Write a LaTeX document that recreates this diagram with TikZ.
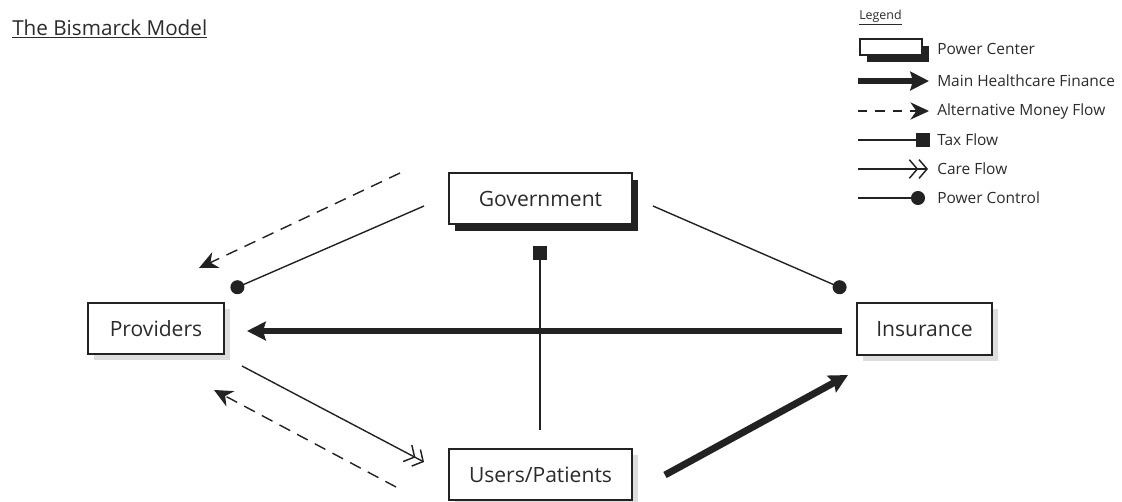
\documentclass[tikz,border=0pt]{standalone}
\usepackage{fontspec}
\setmainfont{Open Sans}
\usetikzlibrary{arrows.meta,shadows}
\definecolor{ink}{HTML}{222222}
\definecolor{txt}{HTML}{2B2B2B}
\definecolor{lshadow}{HTML}{DDDDDD}
\begin{document}
\begin{tikzpicture}[x=0.75pt,y=-0.75pt,
  box/.style={draw=ink,line width=1.1pt,fill=white,text=txt,font=\fontsize{15.8}{18}\selectfont,inner sep=0pt},
  lightbox/.style={box,drop shadow={shadow xshift=4.5pt,shadow yshift=-4.5pt,fill=lshadow,opacity=1}},
  powerbox/.style={box,drop shadow={shadow xshift=4.5pt,shadow yshift=-5.25pt,fill=ink,opacity=1}},
  thin/.style={draw=ink,line width=1.05pt},
  thick/.style={draw=ink,line width=5.2pt,-{Stealth[length=14pt,width=14pt,inset=2pt]}},
  money/.style={draw=ink,line width=1.05pt,dash pattern=on 9pt off 6pt,-{Stealth[length=14pt,width=13pt,inset=4.5pt]}},
  tax/.style={thin,-{Square[length=10.5pt,width=10.5pt]}},
  care/.style={thin,-{Straight Barb[length=6pt,width=14pt,line width=1.1pt]Straight Barb[length=6pt,width=14pt,line width=1.1pt]}},
  control/.style={thin,-{Circle[length=10.5pt]}},
  lgtext/.style={text=txt,font=\fontsize{11.6}{13}\selectfont,anchor=west,inner sep=0pt}
]
\useasboundingbox (0,0) rectangle (1122,501);

% title
\node[anchor=base west,inner sep=0pt,text=txt,font=\fontsize{15.5}{18}\selectfont] (title) at (12,35) {\underline{The Bismarck Model}};

% main nodes
\node[powerbox,minimum width=137.25pt,minimum height=38.25pt] (gov) at (540.5,198.5) {Government};
\node[lightbox,minimum width=102pt,minimum height=38.25pt] (prov) at (156,328.5) {Providers};
\node[lightbox,minimum width=101.25pt,minimum height=39pt] (ins) at (924.5,329) {Insurance};
\node[lightbox,minimum width=137.25pt,minimum height=38.25pt] (users) at (540.5,474.5) {Users/Patients};

% free ends
\coordinate (gl) at (424,206);
\coordinate (pdot) at (231,290);
\coordinate (gr) at (653,206);
\coordinate (idot) at (846,290);
\coordinate (dmA) at (400,173);
\coordinate (dmB) at (199,268);
\coordinate (taxA) at (540,430);
\coordinate (taxB) at (540,246);
\coordinate (finA) at (842,331);
\coordinate (finB) at (247,331);
\coordinate (uiA) at (665,475);
\coordinate (uiB) at (848,375);
\coordinate (cfA) at (242,366);
\coordinate (cfB) at (424,462);
\coordinate (drA) at (396,487);
\coordinate (drB) at (214,390);

% connectors
\draw[money] (dmA) -- (dmB);
\draw[control] (gl) -- (pdot);
\draw[control] (gr) -- (idot);
\draw[tax] (taxA) -- (taxB);
\draw[thick] (finA) -- (finB);
\draw[thick] (uiA) -- (uiB);
\draw[care] (cfA) -- (cfB);
\draw[money] (drA) -- (drB);

% legend
\node[anchor=base west,inner sep=0pt,text=txt,font=\fontsize{9.3}{11}\selectfont] (lg) at (859,19) {\underline{Legend}};
\node[box,drop shadow={shadow xshift=5.25pt,shadow yshift=-5.25pt,fill=ink,opacity=1},minimum width=46.5pt,minimum height=12pt] (lbox) at (891,47) {};
\node[lgtext] (t1) at (937,49) {Power Center};
\coordinate (l2a) at (858,81); \coordinate (l2b) at (929,81);
\node[lgtext] (t2) at (937,81) {Main Healthcare Finance};
\coordinate (l3a) at (858,111); \coordinate (l3b) at (929,111);
\node[lgtext] (t3) at (937,111) {Alternative Money Flow};
\coordinate (l4a) at (858,140); \coordinate (l4b) at (930,140);
\node[lgtext] (t4) at (937,140) {Tax Flow};
\coordinate (l5a) at (858,169); \coordinate (l5b) at (928,169);
\node[lgtext] (t5) at (937,169) {Care Flow};
\coordinate (l6a) at (858,198); \coordinate (l6b) at (925,198);
\node[lgtext] (t6) at (937,198) {Power Control};

\draw[thick] (l2a) -- (l2b);
\draw[money,dash pattern=on 7pt off 6pt] (l3a) -- (l3b);
\draw[tax] (l4a) -- (l4b);
\draw[care] (l5a) -- (l5b);
\draw[control] (l6a) -- (l6b);
\end{tikzpicture}
\end{document}
